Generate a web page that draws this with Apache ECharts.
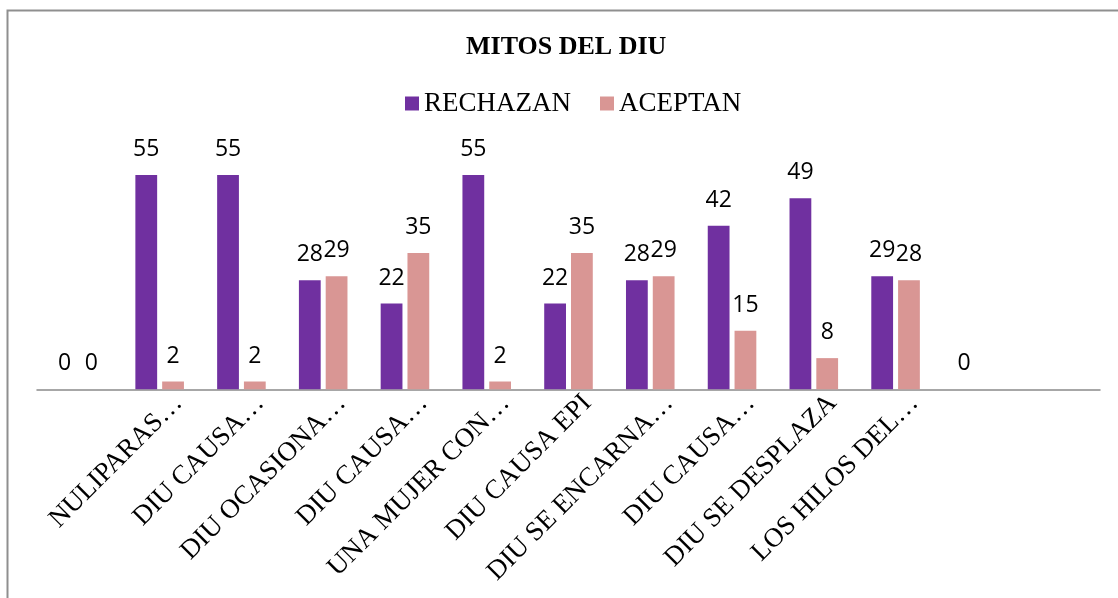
<!DOCTYPE html>
<html>
<head>
<meta charset="utf-8">
<script src="https://cdn.jsdelivr.net/npm/echarts@6/dist/echarts.min.js"></script>
<style>
html,body{margin:0;padding:0;background:#fff;}
#chart{width:1118px;height:598px;}
</style>
</head>
<body>
<div id="chart"></div>
<script>
const categories = ["", "NULIPARAS…", "DIU CAUSA…", "DIU OCASIONA…", "DIU CAUSA…", "UNA MUJER CON…", "DIU CAUSA EPI", "DIU SE ENCARNA…", "DIU CAUSA…", "DIU SE DESPLAZA", "LOS HILOS DEL…", "", ""];
const rechazan = [0, 55, 55, 28, 22, 55, 22, 28, 42, 49, 29, 0, null];
const aceptan = [0, 2, 2, 29, 35, 2, 35, 29, 15, 8, 28, null, null];
const seriesNames = ["RECHAZAN", "ACEPTAN"];
const colors = ["#7030A0", "#D99694"];

const chart = echarts.init(document.getElementById('chart'), null, {renderer: 'canvas'});
const labelStyle = {
  show: true,
  position: 'top',
  distance: 14,
  fontFamily: '"Open Sans", sans-serif',
  fontSize: 23,
  color: '#000'
};
chart.setOption({
  animation: false,
  backgroundColor: '#fff',
  graphic: [{
    type: 'rect',
    shape: {x: 7.5, y: 10.5, width: 1300, height: 800},
    style: {fill: 'none', stroke: '#8f8f8f', lineWidth: 2},
    silent: true,
    z: -1
  }],
  title: {
    text: 'MITOS DEL DIU',
    left: 466,
    top: 34,
    padding: 0,
    textStyle: {fontFamily: '"Liberation Serif", serif', fontWeight: 'bold', fontSize: 26, color: '#000', lineHeight: 26}
  },
  legend: {
    data: seriesNames,
    left: 405,
    top: 90,
    padding: 0,
    itemWidth: 14,
    itemHeight: 14,
    itemGap: 29,
    icon: 'rect',
    textStyle: {fontFamily: '"Liberation Serif", serif', fontSize: 27, color: '#000', lineHeight: 27}
  },
  grid: {left: 37, right: 18, top: 155.5, bottom: 208.7, containLabel: false},
  xAxis: {
    type: 'category',
    data: categories,
    axisLine: {show: true, lineStyle: {color: '#8a8a8a', width: 1.5}},
    axisTick: {show: false},
    axisLabel: {
      interval: 0,
      rotate: 45,
      margin: -9,
      verticalAlign: 'top',
      padding: [13, 0, 0, 0],
      lineHeight: 27,
      fontFamily: '"Liberation Serif", serif',
      fontSize: 27,
      color: '#000'
    }
  },
  yAxis: {
    type: 'value',
    min: 0,
    max: 60,
    show: false,
    splitLine: {show: false}
  },
  series: [
    {
      name: seriesNames[0],
      type: 'bar',
      data: rechazan,
      itemStyle: {color: colors[0]},
      barGap: '23%',
      barCategoryGap: '40.6%',
      label: labelStyle
    },
    {
      name: seriesNames[1],
      type: 'bar',
      data: aceptan,
      itemStyle: {color: colors[1]},
      barGap: '23%',
      barCategoryGap: '40.6%',
      label: labelStyle
    }
  ]
});
</script>
</body>
</html>
